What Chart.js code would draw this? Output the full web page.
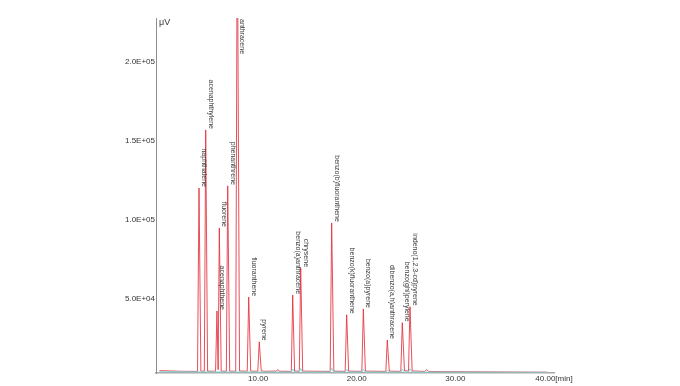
<!DOCTYPE html>
<html>
<head>
<meta charset="utf-8">
<script src="https://cdn.jsdelivr.net/npm/chart.js@4.4.1/dist/chart.umd.min.js"></script>
<style>
    body { margin: 0; background: #fff; }
    #chromChart { display: block; }
</style>
</head>
<body>
<canvas id="chromChart" width="680" height="386"></canvas>
<script>
// Peak table
const peakNames = [
    'naphthalene', 'acenaphthylene', 'acenaphthene', 'fluorene', 'phenanthrene',
    'anthracene', 'fluoranthene', 'pyrene', 'benzo(a)anthracene', 'chrysene',
    'benzo(b)fluoranthene', 'benzo(k)fluoranthene', 'benzo(a)pyrene',
    'dibenzo(a,h)anthracene', 'benzo(ghi)perylene', 'indeno(1,2,3-cd)pyrene'
];
const peakTimes = [4.01, 4.69, 5.83, 6.07, 6.92, 7.89, 9.05, 10.12, 13.51, 14.32, 17.46, 18.98, 20.67, 23.10, 24.62, 25.40];
const peakHeights = [120300, 157100, 42400, 95000, 121600, 300000, 51200, 22900, 52500, 69600, 98200, 40000, 43700, 24000, 35000, 45100];

// Traces [min, uV]
const redTrace = [
    [0.0, 4600], [2.0, 4200], [3.86, 4100], [4.01, 120300], [4.20, 4300],
    [4.55, 4200], [4.69, 157100], [4.88, 4300], [5.69, 4200], [5.83, 42400],
    [5.95, 5200], [6.07, 95000], [6.26, 4300], [6.78, 4200], [6.92, 121600],
    [7.12, 4300], [7.73, 4200], [7.89, 300000], [8.12, 4400], [8.90, 4200],
    [9.05, 51200], [9.25, 4300], [9.97, 4200], [10.12, 22900], [10.32, 4500],
    [10.60, 4200], [11.85, 4300], [12.0, 5300], [12.15, 4200], [13.37, 4100],
    [13.51, 52500], [13.70, 4300], [14.18, 4200], [14.32, 69600], [14.52, 4300],
    [17.31, 4100], [17.46, 98200], [17.68, 4300], [18.83, 4100], [18.98, 40000],
    [19.18, 4300], [20.52, 4100], [20.67, 43700], [20.88, 4300], [22.95, 4100],
    [23.10, 24000], [23.30, 4300], [24.47, 4100], [24.62, 35000], [24.84, 4600],
    [25.25, 4300], [25.40, 45100], [25.62, 4400], [26.90, 4100], [27.10, 5300],
    [27.30, 4000], [33.0, 3800], [39.3, 3600]
];
const cyanTrace = [
    [0.0, 3900], [13.35, 3700], [13.51, 5600], [13.68, 3700], [14.16, 3700],
    [14.32, 6000], [14.50, 3700], [17.30, 3700], [17.46, 6200], [17.66, 3700],
    [18.82, 3700], [18.98, 5400], [19.16, 3700], [20.51, 3700], [20.67, 5600],
    [20.86, 3700], [22.94, 3700], [23.10, 5000], [23.28, 3700], [24.46, 3700],
    [24.62, 5500], [24.80, 3700], [25.24, 3700], [25.40, 5800], [25.60, 3700],
    [39.3, 3500]
];

// Axis ticks
const yTickValues = [50000, 100000, 150000, 200000];
const yTickLabels = ['5.0E+04', '1.0E+05', '1.5E+05', '2.0E+05'];
const xTickValues = [10, 20, 30, 40];
const xTickLabels = ['10.00', '20.00', '30.00', '40.00[min]'];
const yUnit = 'μV';

document.addEventListener('DOMContentLoaded', function() {
    drawChromatogram();
});

const peakLabelPlugin = {
    id: 'peakLabels',
    afterDatasetsDraw(chart) {
        const ctx = chart.ctx;
        const xs = chart.scales.x;
        const ys = chart.scales.y;
        const area = chart.chartArea;
        ctx.save();
        ctx.font = '7px "Liberation Sans", Arial, sans-serif';
        ctx.fillStyle = '#3a3a3a';
        ctx.textBaseline = 'alphabetic';
        peakNames.forEach((name, i) => {
            const px = xs.getPixelForValue(peakTimes[i]) + 3;
            const py = ys.getPixelForValue(peakHeights[i]) - 1;
            ctx.save();
            if (py < area.top) {
                // peak runs off the top: hang the label from the frame
                ctx.translate(px, area.top + 1);
                ctx.rotate(Math.PI / 2);
                ctx.textAlign = 'left';
            } else {
                ctx.translate(px, py);
                ctx.rotate(Math.PI / 2);
                ctx.textAlign = 'right';
            }
            ctx.fillText(name, 0, 0);
            ctx.restore();
        });
        ctx.font = '9px "Liberation Sans", Arial, sans-serif';
        ctx.textAlign = 'left';
        ctx.textBaseline = 'middle';
        ctx.fillStyle = '#333';
        ctx.fillText(yUnit, area.left + 3, area.top + 5);
        ctx.restore();
    }
};

function drawChromatogram() {
    const ctx = document.getElementById('chromChart');
    new Chart(ctx, {
        type: 'line',
        data: {
            datasets: [{
                label: 'ch2',
                data: cyanTrace.map(p => ({ x: p[0], y: p[1] })),
                borderColor: 'rgba(120, 215, 215, 0.9)',
                borderWidth: 1,
                pointRadius: 0,
                tension: 0
            }, {
                label: 'ch1',
                data: redTrace.map(p => ({ x: p[0], y: p[1] })),
                borderColor: 'rgba(228, 48, 60, 0.85)',
                borderWidth: 1,
                pointRadius: 0,
                tension: 0
            }]
        },
        options: {
            responsive: false,
            animation: false,
            layout: {
                padding: { left: 116, right: 126, top: 18, bottom: 0 }
            },
            plugins: {
                legend: { display: false },
                tooltip: { enabled: false }
            },
            scales: {
                x: {
                    type: 'linear',
                    min: -0.35,
                    max: 40,
                    afterFit: s => { s.height = 13; },
                    afterBuildTicks: s => { s.ticks = xTickValues.map(v => ({ value: v })); },
                    grid: { display: false, drawTicks: false },
                    border: { display: true, color: '#a8a8a8', width: 1.5 },
                    ticks: {
                        padding: 1,
                        maxRotation: 0,
                        autoSkip: false,
                        color: '#333',
                        font: { family: '"Liberation Sans", Arial, sans-serif', size: 8 },
                        callback: (v) => xTickLabels[xTickValues.indexOf(v)]
                    }
                },
                y: {
                    min: 3100,
                    max: 228000,
                    afterFit: s => { s.width = 40; },
                    afterBuildTicks: s => { s.ticks = yTickValues.map(v => ({ value: v })); },
                    grid: { display: false, drawTicks: false },
                    border: { display: true, color: '#8e8e8e', width: 1 },
                    ticks: {
                        padding: 1,
                        color: '#333',
                        font: { family: '"Liberation Sans", Arial, sans-serif', size: 8 },
                        callback: (v) => yTickLabels[yTickValues.indexOf(v)]
                    }
                }
            }
        },
        plugins: [peakLabelPlugin]
    });
}
</script>
</body>
</html>
